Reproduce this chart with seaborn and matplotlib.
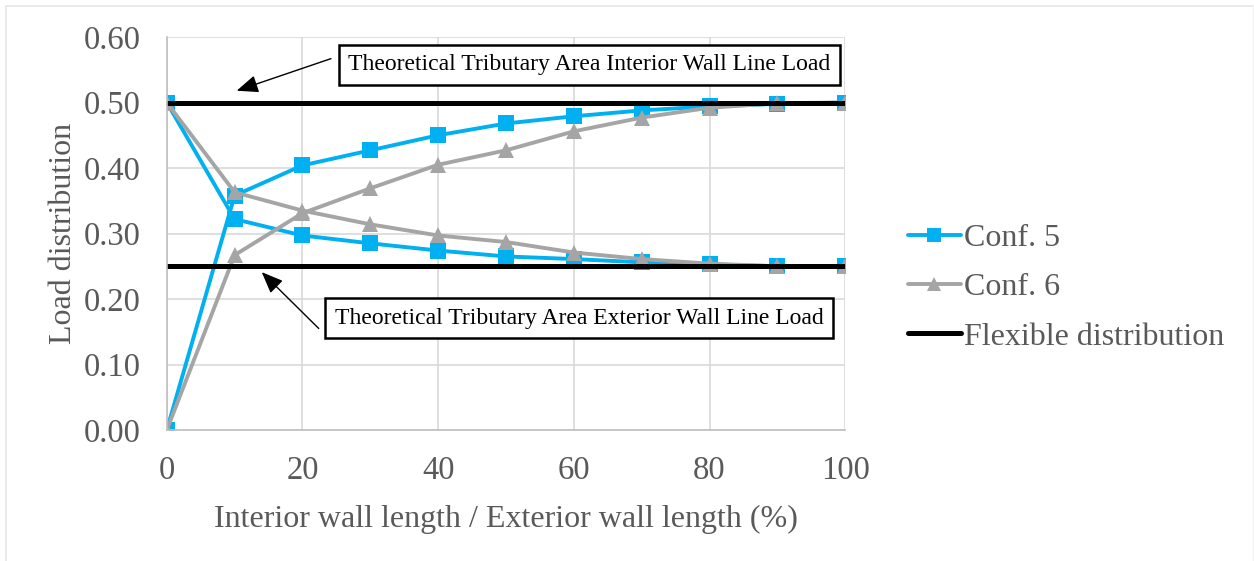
import matplotlib
matplotlib.use("Agg")
import matplotlib.pyplot as plt
import seaborn as sns
import pandas as pd
from matplotlib.lines import Line2D

# Wall length ratio (%)
ratio = [0, 10, 20, 30, 40, 50, 60, 70, 80, 90, 100]

# Load distribution for configuration 5
conf5_interior = [0.000, 0.358, 0.404, 0.427, 0.450, 0.468, 0.479, 0.488, 0.494, 0.498, 0.500]
conf5_exterior = [0.500, 0.322, 0.297, 0.285, 0.274, 0.265, 0.261, 0.256, 0.253, 0.250, 0.250]

# Load distribution for configuration 6
conf6_interior = [0.000, 0.267, 0.331, 0.369, 0.405, 0.427, 0.456, 0.477, 0.492, 0.499, 0.500]
conf6_exterior = [0.500, 0.363, 0.335, 0.314, 0.297, 0.287, 0.271, 0.261, 0.254, 0.250, 0.250]

# Flexible (tributary area) distribution
flex_x = [0, 100]
flex_interior = [0.50, 0.50]
flex_exterior = [0.25, 0.25]

legend_labels = ["Conf. 5", "Conf. 6", "Flexible distribution"]
interior_note = "Theoretical Tributary Area Interior Wall Line Load"
exterior_note = "Theoretical Tributary Area Exterior Wall Line Load"

BLUE = "#00B0F0"
GRAY = "#A5A5A5"
TEXT = "#595959"

sns.set_theme(style="white")
plt.rcParams["font.family"] = ["Liberation Serif", "DejaVu Serif"]

fig = plt.figure(figsize=(12.54, 5.61), dpi=100)
ax = fig.add_axes([0.133, 0.2335, 0.541, 0.7005])

def curve(y, color, marker):
    df = pd.DataFrame({"x": ratio, "y": y})
    sns.lineplot(data=df, x="x", y="y", ax=ax, color=color, linewidth=2.8,
                 marker=marker, markersize=11, markeredgewidth=0,
                 estimator=None, sort=False, legend=False)

curve(conf5_interior, BLUE, "s")
curve(conf5_exterior, BLUE, "s")
curve(conf6_interior, GRAY, "^")
curve(conf6_exterior, GRAY, "^")

for yv in (flex_interior, flex_exterior):
    sns.lineplot(x=flex_x, y=yv, ax=ax, color="black", linewidth=3.6,
                 estimator=None, legend=False)

ax.set_xlim(0, 100)
ax.set_ylim(0, 0.6)
ax.set_xticks(range(0, 101, 20))
ax.set_yticks([i / 10 for i in range(7)])
ax.set_yticklabels([f"{i / 10:.2f}" for i in range(7)])
ax.grid(True, color="#D9D9D9", linewidth=1.2)
ax.set_axisbelow(True)
for s in ("top", "right"):
    ax.spines[s].set_visible(False)
for s in ("left", "bottom"):
    ax.spines[s].set_color("#BFBFBF")
    ax.spines[s].set_linewidth(1.2)
ax.tick_params(axis="both", length=0, labelsize=23.5, colors=TEXT)
ax.tick_params(axis="y", pad=19)
ax.tick_params(axis="x", pad=18)

ax.set_xlabel("Interior wall length / Exterior wall length (%)", fontsize=23,
              color=TEXT, labelpad=14)
ax.set_ylabel("Load distribution", fontsize=23, color=TEXT, labelpad=4)

# Annotations with boxed labels
box = dict(boxstyle="square,pad=0.4", fc="white", ec="black", lw=1.8)
arrow = dict(arrowstyle="-|>,head_length=1.1,head_width=0.45", color="black", lw=1.0,
             shrinkA=0, shrinkB=0)
ax.annotate("", xy=(10.3, 0.518), xytext=(24.2, 0.567), arrowprops=arrow,
            annotation_clip=False)
ax.text(62.3, 0.5575, interior_note, ha="center", va="center", fontsize=17,
        color="black", bbox=box, clip_on=False)
ax.annotate("", xy=(14.0, 0.241), xytext=(22.4, 0.155), arrowprops=arrow,
            annotation_clip=False)
ax.text(60.8, 0.171, exterior_note, ha="center", va="center", fontsize=17,
        color="black", bbox=box, clip_on=False)

handles = [
    Line2D([], [], color=BLUE, lw=2.8, marker="s", markersize=10, markeredgewidth=0),
    Line2D([], [], color=GRAY, lw=2.8, marker="^", markersize=10, markeredgewidth=0),
    Line2D([], [], color="black", lw=3.6),
]
leg = fig.legend(handles, legend_labels, loc="center left",
                 bbox_to_anchor=(0.724, 0.487), frameon=False, fontsize=23,
                 handlelength=1.65, handletextpad=0.1, labelspacing=0.62,
                 borderaxespad=0, borderpad=0)
for t in leg.get_texts():
    t.set_color(TEXT)

# Light outer frame
fig.add_artist(Line2D([0.005, 0.999], [0.989, 0.989], transform=fig.transFigure,
                      color="#E6E6E6", lw=1.2))
fig.add_artist(Line2D([0.005, 0.005], [0.0, 0.989], transform=fig.transFigure,
                      color="#E6E6E6", lw=1.2))
fig.add_artist(Line2D([0.999, 0.999], [0.0, 0.989], transform=fig.transFigure,
                      color="#F2F2F2", lw=1.0))

fig.savefig("out.png", dpi=100, facecolor="white")
